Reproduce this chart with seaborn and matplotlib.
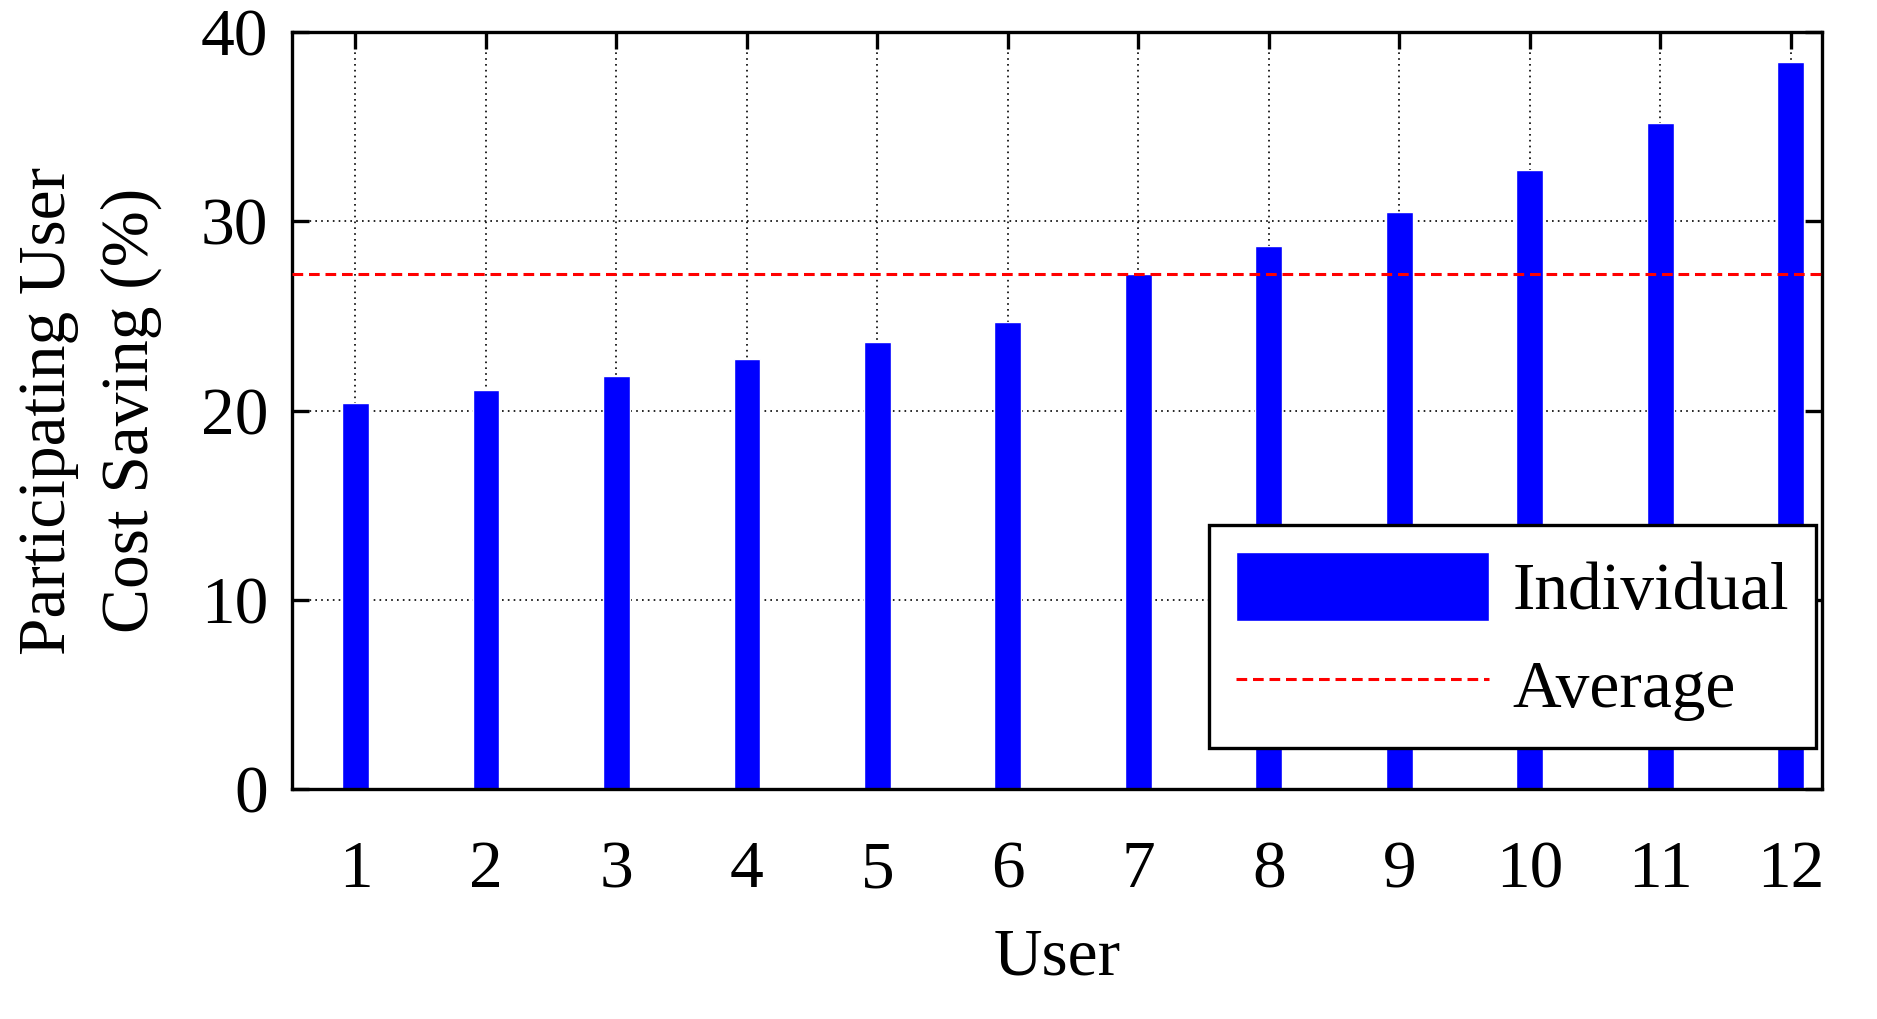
import seaborn as sns
import pandas as pd
import matplotlib.pyplot as plt

# values
users = ['1', '2', '3', '4', '5', '6', '7', '8', '9', '10', '11', '12']
saving = [20.4, 21.1, 21.8, 22.7, 23.6, 24.7, 27.2, 28.7, 30.5, 32.7, 35.2, 38.4]
average = 27.2
y_ticks = [0, 10, 20, 30, 40]


def create_bar_chart(df):
    """Bar chart of per-user cost saving with the average as a dashed line."""
    fig, ax = plt.subplots(figsize=(18.77, 10.19), dpi=100)
    fig.subplots_adjust(left=0.1556, right=0.9707, bottom=0.2257, top=0.9686)

    sns.barplot(data=df, x='User', y='Saving', order=users, color='#0000ff',
                saturation=1, width=0.205, ax=ax, zorder=2)
    bars = ax.containers[0]
    line = ax.axhline(average, color='#ff0000', lw=2.2, ls=(0, (3.5, 1.9)), zorder=3)

    ax.set_xlim(-0.486, 11.24)
    ax.set_ylim(0, 40)
    ax.set_yticks(y_ticks)
    ax.grid(True, color='black', ls=(0, (1, 2.5)), lw=1.2, zorder=0)
    ax.set_axisbelow(True)

    for side in ['left', 'right', 'top', 'bottom']:
        ax.spines[side].set_visible(True)
        ax.spines[side].set_linewidth(2.4)
        ax.spines[side].set_color('black')
    ax.tick_params(axis='both', direction='in', length=12, width=2.4,
                   top=True, right=True, labelsize=48.5, colors='black')
    ax.tick_params(axis='x', pad=37)
    ax.tick_params(axis='y', pad=17)

    ax.set_xlabel('User', fontsize=48.5, labelpad=19, color='black')
    ax.set_ylabel('Participating User\nCost Saving (%)', fontsize=48.5,
                  labelpad=28, linespacing=1.45, color='black')

    leg = ax.legend([bars, line], ['Individual', 'Average'], loc='lower right',
                    bbox_to_anchor=(0.996, 0.054), borderaxespad=0,
                    fontsize=48.5, fancybox=False, framealpha=1, edgecolor='black',
                    handlelength=3.75, handleheight=1.2, handletextpad=0.35,
                    borderpad=0.4, labelspacing=0.4)
    leg.get_frame().set_linewidth(2.4)
    for text in leg.get_texts():
        text.set_color('black')

    fig.savefig('out.png', dpi=100)


def main():
    df = pd.DataFrame({'User': users, 'Saving': saving})
    sns.set_style('ticks')
    plt.rcParams['font.family'] = ['Liberation Serif', 'DejaVu Serif']
    plt.rcParams['text.color'] = 'black'
    create_bar_chart(df)


if __name__ == '__main__':
    main()
